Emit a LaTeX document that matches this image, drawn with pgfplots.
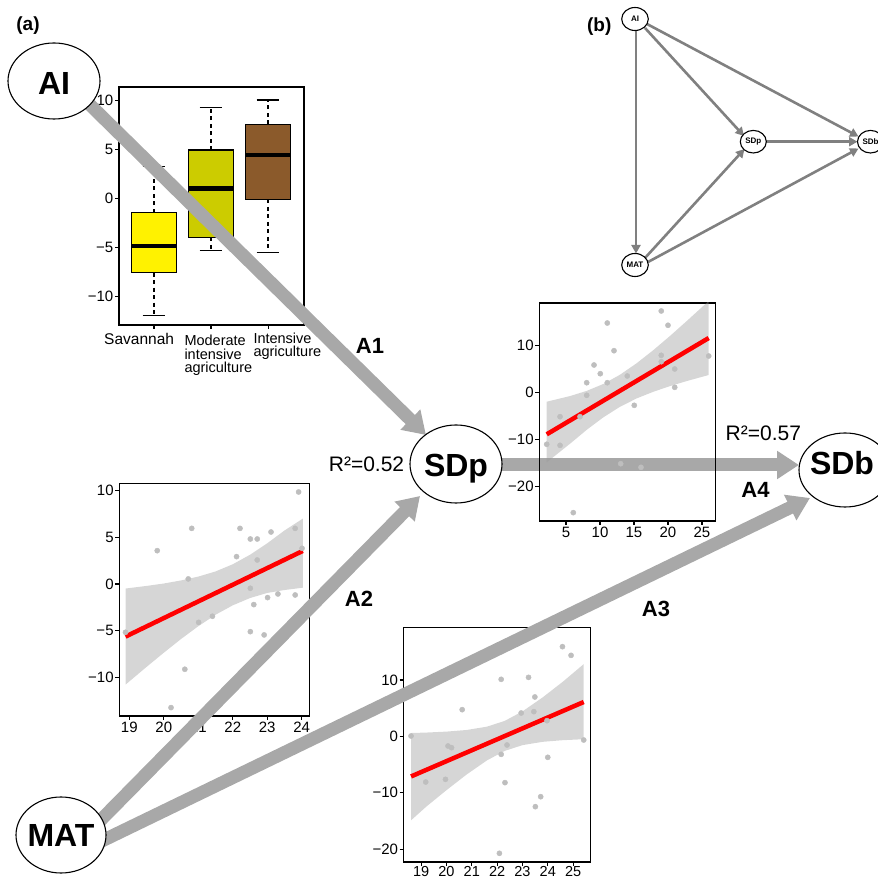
\documentclass[border=0pt]{standalone}
\usepackage{fontspec}
\setmainfont{Liberation Sans}
\usepackage{pgfplots}
\pgfplotsset{compat=1.18}
\usetikzlibrary{arrows.meta}
\definecolor{arrowgray}{RGB}{168,168,168}
\definecolor{bgray}{RGB}{128,128,128}
\definecolor{ptgray}{RGB}{190,190,190}
\definecolor{bandgray}{RGB}{153,153,153}
\definecolor{modyel}{RGB}{204,204,0}
\definecolor{brownfour}{RGB}{139,90,43}
\newcommand\fs[1]{\fontsize{#1}{#1}\selectfont}
\tikzset{
  px/.style={x=1pt,y=-1pt,shift={(0pt,879pt)}},
  bigarrow/.style={line width=13pt, draw=arrowgray, -{Triangle[length=22pt,width=27pt]}},
  smallarrow/.style={line width=2.6pt, draw=bgray, -{Triangle[length=8.5pt,width=9pt]}, fill=bgray},
}
\pgfplotsset{
  myax/.style={scale only axis, anchor=south west,
    axis line style={line width=1.2pt, black},
    tick style={black, line width=1.1pt},
    major tick length=4pt, tick align=outside,
    xtick pos=bottom, ytick pos=left,
    xticklabel style={font=\fs{15}, inner sep=1.5pt},
    yticklabel style={font=\fs{15}, inner sep=1.5pt}},
  pts/.style={only marks, mark=*, mark size=2.6pt, color=ptgray},
  band/.style={fill=bandgray, fill opacity=0.4, draw=none},
  fit/.style={red, line width=4.5pt},
}
\begin{document}
\begin{tikzpicture}
\path[use as bounding box] (0,0) rectangle (878pt,879pt);
\begin{scope}[px]
\draw[bigarrow] (480,465) -- (799,465);
\end{scope}
% ---------- SDp vs SDb (top right)
\begin{axis}[myax, at={(539.3pt,358pt)}, width=176pt, height=218pt,
  xmin=1.07, xmax=26.96, ymin=-27.38, ymax=19.0,
  xtick={5,10,15,20,25}, xticklabels={5,10,15,20,25},
  ytick={-20,-10,0,10}, yticklabels={−20,−10,0,10}]
\addplot[pts] table {
2.16 -11.06
4.12 -11.28
4.12 -5.19
6.07 -25.6
7.06 -5.19
8.04 2.04
8.04 -0.64
9.12 5.81
10.04 3.96
11.07 14.74
11.07 2.04
12.06 8.85
13.04 -15.19
14.01 3.47
15.04 -2.77
16.03 -15.96
19.01 17.3
19.01 7.87
19.01 6.51
20.0 14.26
20.99 4.96
20.99 1.06
25.99 7.72
};
\addplot[band] coordinates {(2.16,-2.0) (5.59,-0.8) (8.04,0.3) (10.49,1.77) (12.94,3.74) (15.39,6.18) (17.84,8.97) (20.29,11.98) (22.75,15.15) (25.99,19.42)
(25.99,3.68) (22.75,2.39) (20.29,1.32) (17.84,0.11) (15.39,-1.30) (12.94,-3.08) (10.49,-5.33) (8.04,-7.99) (5.59,-10.94) (2.16,-14.9)} -- cycle;
\addplot[fit] coordinates {(2.16,-8.94) (25.99,11.55)};
\end{axis}
% ---------- boxplot
\begin{axis}[myax, at={(119pt,554pt)}, width=185pt, height=238pt,
  xmin=0.386, xmax=3.63, ymin=-12.96, ymax=11.4,
  xtick={1,2,3}, xticklabels={,,},
  ytick={-10,-5,0,5,10}, yticklabels={−10,−5,0,5,10}]
\addplot[black, line width=1.2pt, dash pattern=on 4pt off 3.5pt] coordinates {(1,-1.46) (1,3.3)};
\addplot[black, line width=1.2pt, dash pattern=on 4pt off 3.5pt] coordinates {(1,-7.6) (1,-12.0)};
\addplot[black, line width=1.2pt, dash pattern=on 4pt off 3.5pt] coordinates {(2,4.95) (2,9.28)};
\addplot[black, line width=1.2pt, dash pattern=on 4pt off 3.5pt] coordinates {(2,-3.98) (2,-5.3)};
\addplot[black, line width=1.2pt, dash pattern=on 4pt off 3.5pt] coordinates {(3,7.6) (3,10.07)};
\addplot[black, line width=1.2pt, dash pattern=on 4pt off 3.5pt] coordinates {(3,-0.1) (3,-5.5)};
\addplot[black, line width=1.2pt] coordinates {(0.8,3.3) (1.2,3.3)};
\addplot[black, line width=1.2pt] coordinates {(0.8,-12.0) (1.2,-12.0)};
\addplot[black, line width=1.2pt] coordinates {(1.8,9.28) (2.2,9.28)};
\addplot[black, line width=1.2pt] coordinates {(1.8,-5.3) (2.2,-5.3)};
\addplot[black, line width=1.2pt] coordinates {(2.8,10.07) (3.2,10.07)};
\addplot[black, line width=1.2pt] coordinates {(2.8,-5.5) (3.2,-5.5)};
\addplot[fill=yellow, draw=black, line width=1.2pt] coordinates {(0.6,-7.6) (1.4,-7.6) (1.4,-1.46) (0.6,-1.46)} -- cycle;
\addplot[fill=modyel, draw=black, line width=1.2pt] coordinates {(1.6,-3.98) (2.4,-3.98) (2.4,4.95) (1.6,4.95)} -- cycle;
\addplot[fill=brownfour, draw=black, line width=1.2pt] coordinates {(2.6,-0.1) (3.4,-0.1) (3.4,7.6) (2.6,7.6)} -- cycle;
\addplot[black, line width=4.5pt] coordinates {(0.6,-4.87) (1.4,-4.87)};
\addplot[black, line width=4.5pt] coordinates {(1.6,1.03) (2.4,1.03)};
\addplot[black, line width=4.5pt] coordinates {(2.6,4.44) (3.4,4.44)};
\end{axis}
% ---------- MAT vs SDp (left)
\begin{axis}[myax, at={(119.3pt,163pt)}, width=190pt, height=232.7pt,
  xmin=18.71, xmax=24.22, ymin=-14.15, ymax=10.79,
  xtick={19,20,21,22,23,24}, xticklabels={19,20,21,22,23,24},
  ytick={-10,-5,0,5,10}, yticklabels={−10,−5,0,5,10}]
\addplot[pts] table {
18.89 -5.18
19.81 3.57
20.21 -13.25
20.61 -9.14
20.71 0.54
20.81 5.96
21.01 -4.11
21.41 -3.46
22.11 2.93
22.21 5.96
22.51 4.82
22.51 -0.46
22.51 -5.11
22.61 -2.21
22.71 4.82
22.71 2.57
22.91 -5.46
23.01 -1.46
23.11 5.57
23.31 -1.07
23.81 -1.18
23.81 5.96
23.91 9.86
24.01 3.82
};
\addplot[band] coordinates {(18.89,-0.49) (19.5,-0.21) (20,0.05) (20.5,0.38) (21,0.79) (21.5,1.34) (22,2.11) (22.5,3.13) (23,4.36) (23.5,5.73) (24.03,7.0)
(24.03,-0.4) (23.5,-0.65) (23,-0.96) (22.5,-1.51) (22,-2.29) (21.5,-3.30) (21,-4.53) (20.5,-5.90) (20,-7.37) (19.5,-8.89) (18.89,-10.79)} -- cycle;
\addplot[fit] coordinates {(18.89,-5.64) (24.03,3.54)};
\end{axis}
% ---------- MAT vs SDb (bottom)
\begin{axis}[myax, at={(403.7pt,17pt)}, width=186.6pt, height=234.5pt,
  xmin=18.31, xmax=25.68, ymin=-22.27, ymax=19.31,
  xtick={19,20,21,22,23,24,25}, xticklabels={19,20,21,22,23,24,25},
  xticklabel style={font=\fs{14.5}, inner sep=0.3pt},
  ytick={-20,-10,0,10}, yticklabels={−20,−10,0,10}]
\addplot[pts] table {
18.60 0.07
19.18 -8.09
19.96 -7.61
20.06 -1.70
20.20 -2.0
20.62 4.74
22.16 10.12
22.16 -3.18
22.31 -8.20
22.39 -1.52
22.09 -20.73
22.95 4.15
23.24 10.47
23.45 4.39
23.49 6.99
23.51 -12.46
23.72 -10.69
23.97 2.79
24.00 -3.71
24.58 15.91
24.92 14.37
25.42 -0.64
25.71 19.57
};
\addplot[band] coordinates {(18.6,0.60) (19.2,0.68) (20,0.85) (20.8,1.14) (21.6,1.73) (22.3,2.75) (23,4.43) (23.8,6.92) (24.6,9.71) (25.42,12.82)
(25.42,-0.50) (24.6,-0.67) (23.8,-0.96) (23,-1.55) (22.3,-2.57) (21.6,-4.25) (20.8,-6.74) (20,-9.53) (19.2,-12.46) (18.6,-14.88)} -- cycle;
\addplot[fit] coordinates {(18.6,-7.1) (25.42,6.1)};
\end{axis}
% ---------- diagram on top
\begin{scope}[px]
\draw[bigarrow] (80,95) -- (426,435);
\draw[bigarrow] (90,831) -- (420,496);
\draw[bigarrow] (90,846.7) -- (810,498);
\draw[fill=white, line width=1.1pt] (54,81) ellipse [x radius=46pt, y radius=38pt];
\draw[fill=white, line width=1.1pt] (456,464) ellipse [x radius=46pt, y radius=39pt];
\draw[fill=white, line width=1.1pt] (845,470) ellipse [x radius=46pt, y radius=37pt];
\draw[fill=white, line width=1.1pt] (61,835) ellipse [x radius=45pt, y radius=38pt];
\node[anchor=base, font=\bfseries\fs{32}, inner sep=0pt] at (54,95) {AI};
\node[anchor=base, font=\bfseries\fs{32}, inner sep=0pt] at (456,477) {SDp};
\node[anchor=base, font=\bfseries\fs{32}, inner sep=0pt] at (842,475) {SDb};
\node[anchor=base, font=\bfseries\fs{32}, inner sep=0pt] at (61,847) {MAT};
\node[anchor=base, font=\fs{21}, inner sep=0pt] at (366.5,472) {R²=0.52};
\node[anchor=base, font=\fs{21}, inner sep=0pt] at (763.3,440.7) {R²=0.57};
\node[anchor=base, font=\bfseries\fs{22}, inner sep=0pt] at (370,354) {A1};
\node[anchor=base, font=\bfseries\fs{22}, inner sep=0pt] at (359,607) {A2};
\node[anchor=base, font=\bfseries\fs{22}, inner sep=0pt] at (656,617) {A3};
\node[anchor=base, font=\bfseries\fs{22}, inner sep=0pt] at (755.5,497.3) {A4};
\node[anchor=base, font=\bfseries\fs{19}, inner sep=0pt] at (28,31) {(a)};
\node[anchor=base, font=\bfseries\fs{19}, inner sep=0pt] at (599.2,31.7) {(b)};
\node[anchor=base west, font=\fs{15.5}, inner sep=0pt] at (104,344.3) {Savannah};
\node[anchor=base west, font=\fs{14.5}, inner sep=0pt] at (184.3,345.7) {Moderate};
\node[anchor=base west, font=\fs{14.5}, inner sep=0pt] at (184.3,359.1) {intensive};
\node[anchor=base west, font=\fs{14.5}, inner sep=0pt] at (184.3,372.5) {agriculture};
\node[anchor=base west, font=\fs{14.5}, inner sep=0pt] at (253.3,343.3) {Intensive};
\node[anchor=base west, font=\fs{14.5}, inner sep=0pt] at (253.3,356.7) {agriculture};
% panel b
\draw[smallarrow] (636,30) -- (636,253.5);
\draw[smallarrow] (645,28) -- (744,136);
\draw[smallarrow] (647,24) -- (858.5,136.5);
\draw[smallarrow] (766,141.7) -- (857.5,141.7);
\draw[smallarrow] (645,258) -- (744.5,149);
\draw[smallarrow] (648,262) -- (858.5,148.5);
\draw[fill=white, line width=1.1pt] (635,19) ellipse [x radius=13.3pt, y radius=11.5pt];
\draw[fill=white, line width=1.1pt] (753.3,141.7) ellipse [x radius=13pt, y radius=11.3pt];
\draw[fill=white, line width=1.1pt] (870.5,141.7) ellipse [x radius=13pt, y radius=11.3pt];
\draw[fill=white, line width=1.1pt] (635,265) ellipse [x radius=13.3pt, y radius=11.5pt];
\node[font=\bfseries\fs{8}, inner sep=0pt] at (635,19) {AI};
\node[font=\bfseries\fs{8}, inner sep=0pt] at (753.3,141.7) {SDp};
\node[font=\bfseries\fs{8}, inner sep=0pt] at (870.5,141.7) {SDb};
\node[font=\bfseries\fs{8}, inner sep=0pt] at (635,265) {MAT};
\end{scope}
\end{tikzpicture}
\end{document}
